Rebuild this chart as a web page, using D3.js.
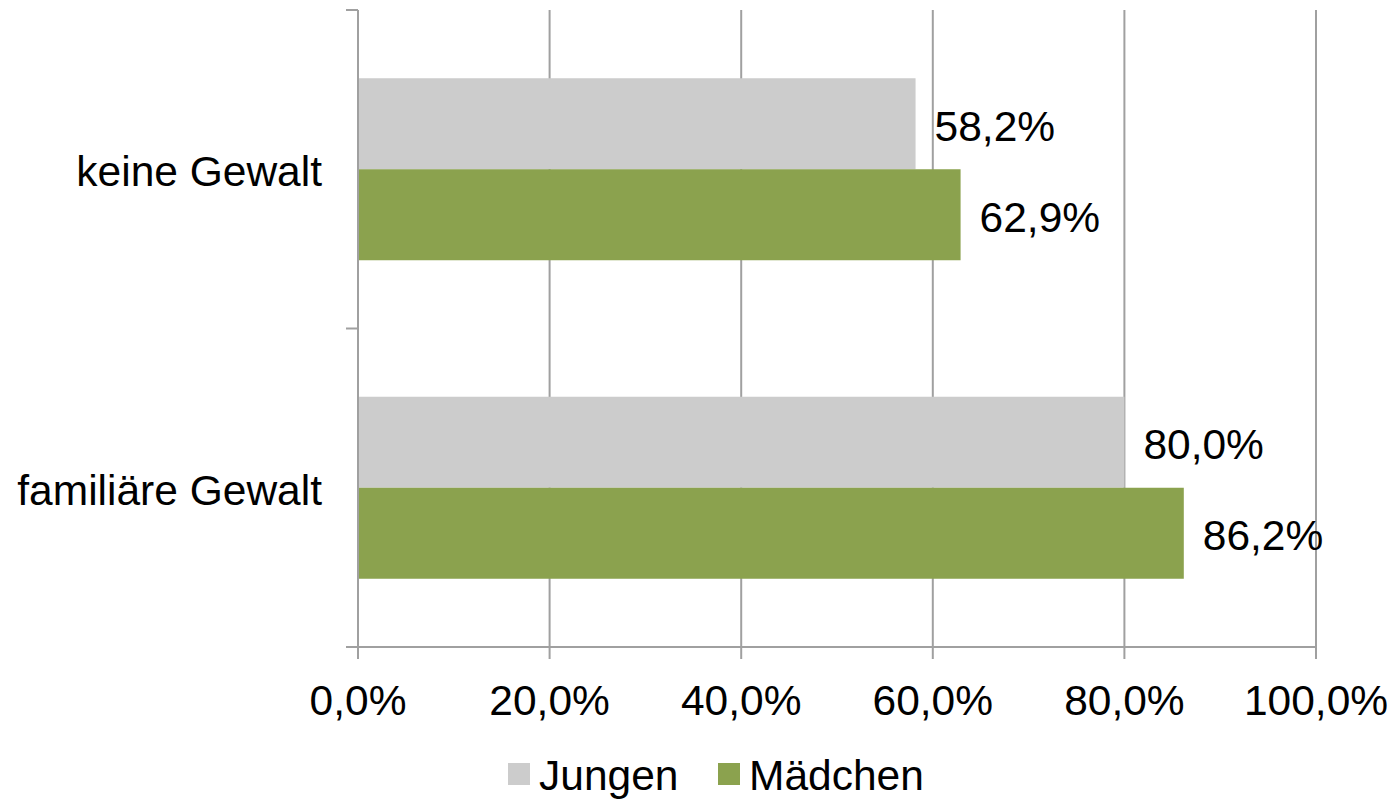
<!DOCTYPE html>
<html><head><meta charset="utf-8">
<script src="https://cdn.jsdelivr.net/npm/d3@7"></script>
<style>body{margin:0;background:#fff}svg{display:block}text{font-family:"Liberation Sans",Arial,sans-serif;fill:#000}</style>
</head><body>
<svg id="c" width="1394" height="801"></svg>
<script>
const categories = ["keine Gewalt", "familiäre Gewalt"];
const seriesNames = ["Jungen", "Mädchen"];
const jungen = [0.582, 0.800];
const maedchen = [0.629, 0.862];
const xTicks = [0, 0.2, 0.4, 0.6, 0.8, 1.0];
const colors = ["#cccccc", "#8ba24e"];

const svg = d3.select("#c");
const fs = 42.5;
const fmt = v => d3.format(".1f")(v * 100).replace(".", ",") + "%";

const x = d3.scaleLinear().domain([0, 1]).range([358, 1316]);
const y = d3.scaleBand().domain(categories).range([10, 647]).paddingInner(0).paddingOuter(0);
const barH = y.bandwidth() / 3.5;
const grid = "#a0a0a0";

// gridlines + x ticks
svg.append("g").selectAll("line").data(xTicks).join("line")
  .attr("x1", d => x(d)).attr("x2", d => x(d))
  .attr("y1", 10).attr("y2", 659)
  .attr("stroke", grid).attr("stroke-width", 2);

// y axis ticks (category boundaries)
const yb = [10, ...categories.map(c => y(c) + y.bandwidth())];
svg.append("g").selectAll("line").data(yb).join("line")
  .attr("x1", 346).attr("x2", 358).attr("y1", d => d).attr("y2", d => d)
  .attr("stroke", grid).attr("stroke-width", 2);

// bars
const data = [];
categories.forEach((c, i) => {
  [jungen[i], maedchen[i]].forEach((v, s) => data.push({c, s, v}));
});
const groupTop = c => y(c) + (y.bandwidth() - 2 * barH) / 2;
svg.append("g").selectAll("rect").data(data).join("rect")
  .attr("x", x(0)).attr("width", d => x(d.v) - x(0))
  .attr("y", d => groupTop(d.c) + d.s * barH).attr("height", barH)
  .attr("fill", d => colors[d.s]);

// axes lines
svg.append("line").attr("x1", 358).attr("x2", 358).attr("y1", 10).attr("y2", 659).attr("stroke", grid).attr("stroke-width", 2);
svg.append("line").attr("x1", 346).attr("x2", 1316).attr("y1", 647).attr("y2", 647).attr("stroke", grid).attr("stroke-width", 2);

// value labels
svg.append("g").selectAll("text").data(data).join("text")
  .attr("x", d => x(d.v) + 19)
  .attr("y", d => groupTop(d.c) + d.s * barH + barH / 2 + 2)
  .attr("dy", "0.35em").attr("font-size", fs)
  .text(d => fmt(d.v));

// category labels
svg.append("g").selectAll("text").data(categories).join("text")
  .attr("x", 322).attr("y", d => y(d) + y.bandwidth() / 2 + 2)
  .attr("dy", "0.35em").attr("text-anchor", "end").attr("font-size", fs)
  .text(d => d);

// x tick labels
svg.append("g").selectAll("text").data(xTicks).join("text")
  .attr("x", d => x(d)).attr("y", 715)
  .attr("text-anchor", "middle").attr("font-size", fs)
  .text(d => fmt(d));

// legend
const leg = [{n: seriesNames[0], x: 508}, {n: seriesNames[1], x: 718}];
const lg = svg.append("g").selectAll("g").data(leg).join("g");
lg.append("rect").attr("x", d => d.x).attr("y", 763).attr("width", 22).attr("height", 22)
  .attr("fill", (d, i) => colors[i]);
lg.append("text").attr("x", d => d.x + 31).attr("y", 790)
  .attr("font-size", fs).text(d => d.n);
</script>
</body></html>
